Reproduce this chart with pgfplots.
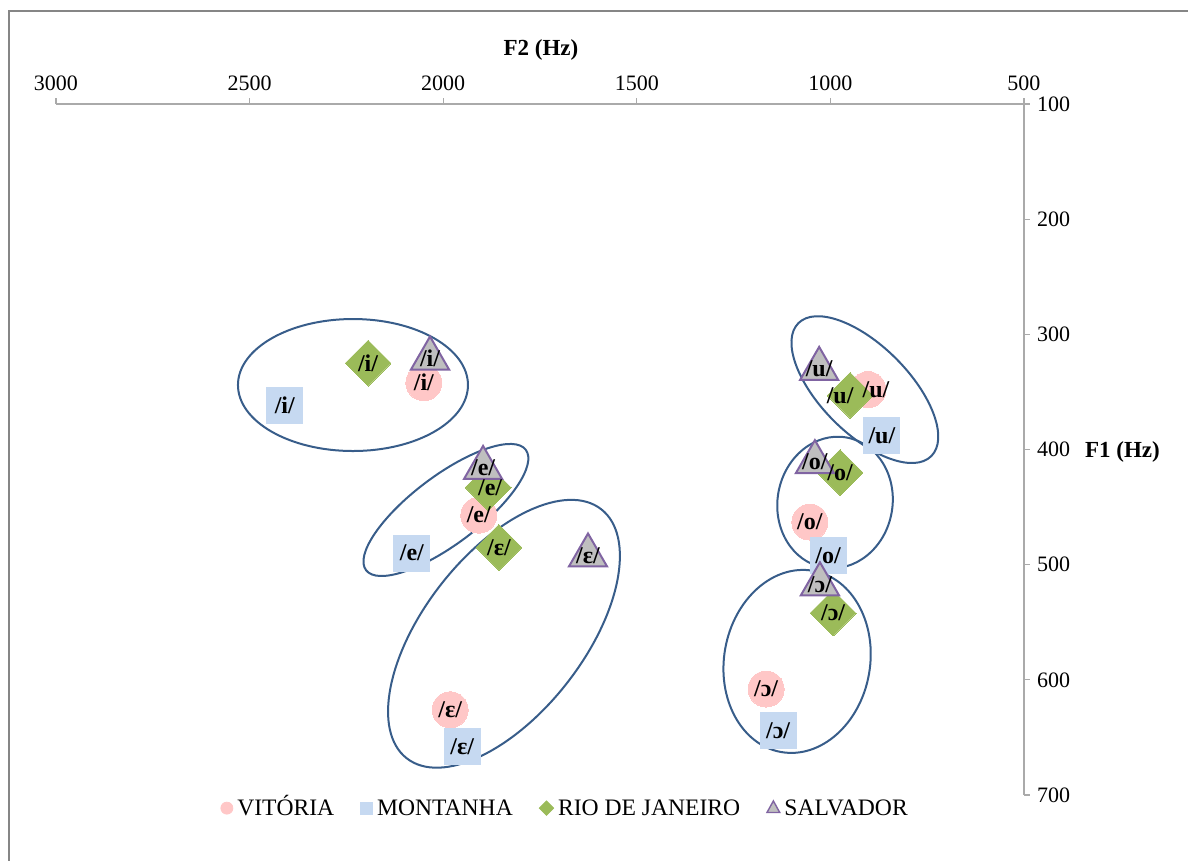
\documentclass[border=0pt]{standalone}
\usepackage{pgfplots}
\usepackage{pgfplotstable}
\pgfplotsset{compat=1.18}
\usepackage{fontspec}
\setmainfont{Liberation Serif}

\definecolor{vitoria}{RGB}{255,199,199}
\definecolor{montanha}{RGB}{198,217,241}
\definecolor{rio}{RGB}{155,187,89}
\definecolor{salvfill}{RGB}{191,191,191}
\definecolor{salvedge}{RGB}{128,100,162}
\definecolor{ring}{RGB}{56,93,138}
\definecolor{axisgray}{RGB}{170,170,170}
\definecolor{framegray}{RGB}{134,134,134}

% F2 (Hz), F1 (Hz), vowel, horizontal label nudge (pt)
\pgfplotstableread{
F2   F1  lab dx
2050 342 /i/ 0
1908 457 /e/ 0
1982 626 /ɛ/ 0
903  348 /u/ 4
1053 463 /o/ 0
1166 608 /ɔ/ 0
}\vitoria
\pgfplotstableread{
F2   F1  lab dx
2409 362 /i/ 0
2081 490 /e/ 0
1951 658 /ɛ/ 0
867  388 /u/ 0
1006 492 /o/ 0
1135 644 /ɔ/ 0
}\montanha
\pgfplotstableread{
F2   F1  lab dx
2194 325 /i/ 0
1884 433 /e/ 1
1856 485 /ɛ/ 0
949  353 /u/ -5
975  420 /o/ 0
993  542 /ɔ/ 0
}\rio
\pgfplotstableread{
F2   F1  lab dx
2034 321 /i/ 0
1897 416 /e/ 0
1626 492 /ɛ/ 0
1029 330 /u/ 0
1040 411 /o/ 0
1027 517 /ɔ/ 0
}\salvador

\pgfplotsset{
  vowel labels/.style={
    forget plot, only marks, mark=none,
    point meta=explicit symbolic,
    visualization depends on={\thisrow{dx} \as \labdx},
    nodes near coords,
    nodes near coords align=center,
    every node near coord/.append style={font=\fontsize{12}{14}\selectfont\bfseries,
      text=black, inner sep=0pt, xshift=\labdx pt},
  },
}

\begin{document}
\begin{tikzpicture}[x=1pt,y=1pt]
\useasboundingbox (-28,-33) rectangle (566,397.5);
\draw[framegray, line width=1pt] (-23.5,-40) -- (-23.5,392) -- (580,392);
\begin{axis}[
  at={(0,0)}, anchor=south west,
  width=484pt, height=345.5pt, scale only axis,
  xmin=500, xmax=3000, ymin=100, ymax=700,
  x dir=reverse, y dir=reverse,
  axis x line*=top, axis y line*=right,
  axis line style={axisgray, line width=0.8pt},
  xtick={500,1000,...,3000}, ytick={100,200,...,700},
  tick align=outside, major tick length=3pt,
  tick style={axisgray, line width=0.6pt},
  tick label style={font=\fontsize{11}{13}\selectfont, black},
  /pgf/number format/assume math mode=true,
  /pgf/number format/1000 sep={},
  xlabel={\textbf{F2 (Hz)}},
  ylabel={\textbf{F1 (Hz)}},
  every axis x label/.style={at={(axis description cs:0.501,1)}, anchor=center, yshift=27pt, font=\fontsize{11.5}{13}\selectfont},
  every axis y label/.style={at={(axis description cs:1,0.496)}, anchor=west, xshift=27pt, font=\fontsize{11.5}{13}\selectfont},
  only marks,
  legend columns=4,
  legend style={draw=none, fill=none, font=\fontsize{11.8}{14}\selectfont,
    at={(axis description cs:0.527,-0.019)}, anchor=center,
    nodes={text height=10pt, text depth=2.5pt},
    /tikz/every even column/.append style={column sep=11pt},
    legend cell align=left},
]
\addplot[vitoria, mark=*, mark size=9pt, mark options={draw=vitoria, fill=vitoria, line width=0pt},
  legend image code/.code={\fill[vitoria] (0pt,0pt) circle (3pt);}]
  table[x=F2, y=F1] {\vitoria};
\addlegendentry{VITÓRIA}
\addplot[montanha, mark=square*, mark size=9pt, mark options={draw=montanha, fill=montanha, line width=0pt},
  legend image code/.code={\fill[montanha] (-3pt,-3pt) rectangle (3pt,3pt);}]
  table[x=F2, y=F1] {\montanha};
\addlegendentry{MONTANHA}
\addplot[rio, mark=square*, mark size=8.1pt, mark options={draw=rio, fill=rio, line width=0pt, rotate=45},
  legend image code/.code={\fill[rio] (0pt,-3.6pt) -- (3.6pt,0pt) -- (0pt,3.6pt) -- (-3.6pt,0pt) -- cycle;}]
  table[x=F2, y=F1] {\rio};
\addlegendentry{RIO DE JANEIRO}
\addplot[salvedge, mark=triangle*, mark size=11pt, mark options={draw=salvedge, fill=salvfill, line width=1pt},
  legend image code/.code={\draw[salvedge, fill=salvfill, line width=0.7pt] (0pt,3.6pt) -- (3.2pt,-2.2pt) -- (-3.2pt,-2.2pt) -- cycle;}]
  table[x=F2, y=F1] {\salvador};
\addlegendentry{SALVADOR}

% vowel labels, set over all markers
\addplot[vowel labels] table[x=F2, y=F1, meta=lab] {\vitoria};
\addplot[vowel labels] table[x=F2, y=F1, meta=lab] {\montanha};
\addplot[vowel labels] table[x=F2, y=F1, meta=lab] {\rio};
\addplot[vowel labels] table[x=F2, y=F1, meta=lab] {\salvador};

% vowel groupings
\draw[ring, line width=1pt] (axis cs:2233,344) ellipse [x radius=57.5pt, y radius=33pt];
\draw[ring, line width=1pt] (axis cs:1993,452.5) ellipse [x radius=50pt, y radius=17pt, rotate=37];
\draw[ring, line width=1pt] (axis cs:1843,560) ellipse [x radius=79pt, y radius=40pt, rotate=52];
\draw[ring, line width=1pt] (axis cs:911,348) ellipse [x radius=47pt, y radius=22pt, rotate=-45];
\draw[ring, line width=1pt] (axis cs:988,446) ellipse [x radius=28.75pt, y radius=33pt, rotate=-10];
\draw[ring, line width=1pt] (axis cs:1086,584) ellipse [x radius=46pt, y radius=36.5pt, rotate=80];
\end{axis}
\end{tikzpicture}
\end{document}
